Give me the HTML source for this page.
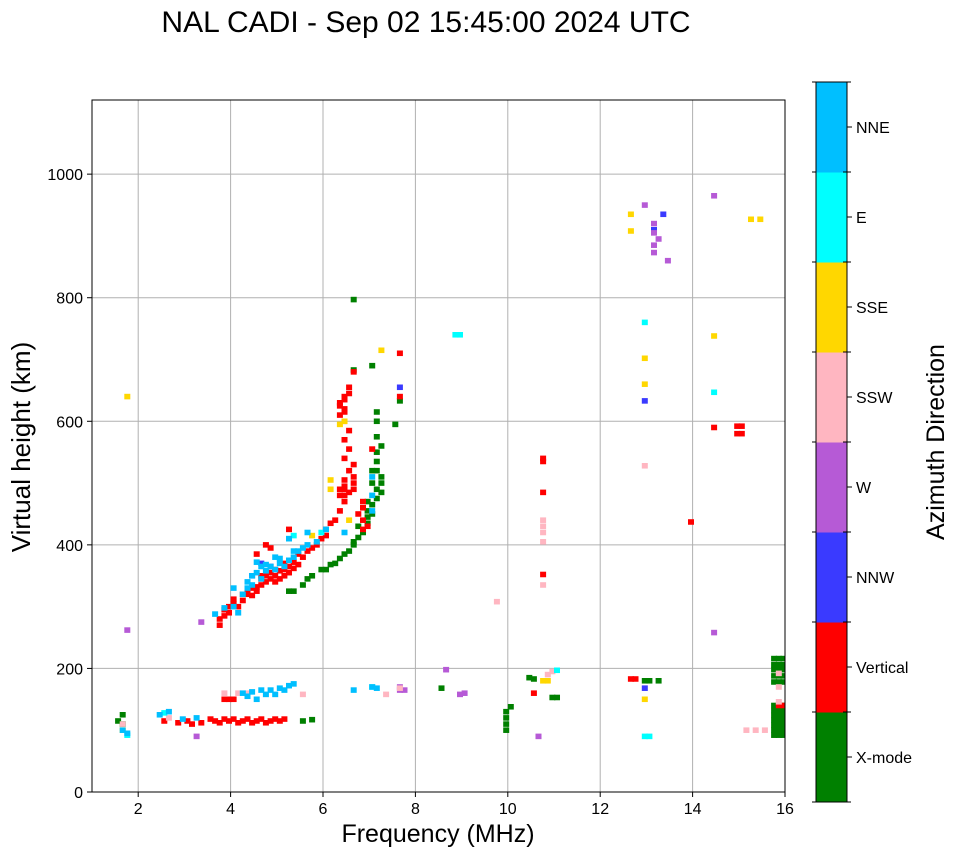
<!DOCTYPE html>
<html><head><meta charset="utf-8"><style>
body{margin:0;background:#fff;}
svg{display:block;font-family:"Liberation Sans","DejaVu Sans",sans-serif;}
</style></head><body>
<svg id="chart" width="958" height="857">
<text x="426" y="32" font-size="30" text-anchor="middle">NAL CADI - Sep 02 15:45:00 2024 UTC</text>
<g id="grid"></g>
<g id="marks"></g>
<rect x="92" y="100" width="693" height="692" fill="none" stroke="#000" stroke-width="1"/>
<g id="axes"></g>
<text x="438" y="842" font-size="25" text-anchor="middle">Frequency (MHz)</text>
<text x="0" y="0" font-size="26" text-anchor="middle" transform="translate(30,447) rotate(-90)">Virtual height (km)</text>
<g id="cbar"></g>
<text x="0" y="0" font-size="25" text-anchor="middle" transform="translate(944,442) rotate(-90)">Azimuth Direction</text>
</svg>
<script>
const xTicks=[2,4,6,8,10,12,14,16];
const yTicks=[0,200,400,600,800,1000];
const dirNames=["X-mode","Vertical","NNW","W","SSW","SSE","E","NNE"];
const dirColors=["#008000","#ff0000","#3a3aff","#b65ad6","#ffb6c1","#ffd700","#00ffff","#00bfff"];
// series: freq (MHz) and height (km) per direction
const xmodeF=[5.2,5.3,5.5,5.6,5.7,5.9,6.0,6.1,6.2,6.3,6.4,6.5,6.6,6.7,6.8,6.9,6.9,7.0,7.0,7.1,7.1,7.2,7.2,7.0,7.1,7.1,7.2,7.1,7.1,7.1,7.5,7.6,6.6,7.0,6.6,6.6,6.7,6.9,7.0,7.1,6.9,7.2,1.5,1.6,1.6,5.5,5.7,8.5,9.9,9.9,9.9,9.9,10.0,10.4,10.5,10.9,11.0,12.9,13.0,13.2,15.7,15.8,15.9,15.7,15.8,15.9,15.7,15.8,15.9,15.7,15.8,15.9,15.7,15.8,15.9,15.7,15.8,15.9,15.7,15.8,15.9,15.7,15.8,15.9,15.7,15.8,15.9,15.7,15.8,15.9,15.7,15.8,15.9,15.7,15.8,15.9];
const xmodeH=[325,325,335,345,350,360,360,368,370,378,385,390,405,412,420,435,445,450,465,475,490,500,510,520,535,550,560,575,600,615,595,633,797,690,683,400,430,455,500,520,470,485,115,110,125,115,117,168,100,110,120,130,138,185,183,153,153,180,180,180,92,92,92,100,100,100,108,108,108,116,116,116,124,124,124,132,132,132,178,178,178,188,188,188,198,198,198,206,206,206,216,216,216,140,140,140];
const vertF=[3.7,3.7,3.8,3.8,3.9,3.9,4.0,4.0,4.1,4.2,4.3,4.3,4.4,4.5,4.5,4.6,4.6,4.7,4.7,4.8,4.8,4.9,4.9,5.0,5.0,5.1,5.1,5.2,5.2,5.3,5.3,5.4,5.5,5.4,5.6,5.7,5.8,5.9,6.0,6.0,6.1,6.2,6.3,6.4,6.4,6.3,6.4,6.4,6.5,6.6,6.6,6.6,6.5,6.6,6.4,6.5,6.4,6.5,6.4,6.4,6.3,6.4,6.5,6.5,6.6,7.6,7.6,6.9,6.8,6.8,6.7,7.0,4.5,4.7,5.2,4.8,6.3,6.3,6.4,6.4,6.3,6.4,6.8,6.8,4.2,4.4,4.6,4.9,5.1,3.0,3.1,3.3,3.5,3.6,3.7,3.8,3.9,4.0,4.1,4.2,4.3,4.4,4.5,4.6,4.7,4.8,4.9,5.0,5.1,3.8,3.9,4.0,2.8,2.5,10.7,10.7,10.7,10.7,10.5,12.6,12.7,14.4,14.9,15.0,14.9,15.0,13.9,15.8,15.9];
const vertH=[270,280,285,295,290,300,305,312,300,310,320,325,318,325,332,335,345,340,350,345,355,340,350,345,358,350,360,355,365,362,372,368,380,385,390,395,400,410,415,425,435,440,455,470,480,490,495,505,485,490,500,510,520,530,540,555,570,585,600,615,625,635,645,655,680,710,640,430,460,470,450,555,385,400,425,395,610,630,620,640,480,490,440,425,320,330,350,360,370,115,110,112,118,115,112,118,115,118,112,115,118,112,115,118,112,115,118,115,118,150,150,150,112,115,540,535,485,352,160,183,183,590,580,580,592,592,437,140,140];
const nnwF=[12.9,13.3,12.9,13.1,7.6,4.6,4.4,4.8];
const nnwH=[633,935,168,910,655,370,350,365];
const wF=[12.9,13.1,13.1,13.2,13.1,13.1,13.4,14.4,14.4,8.6,8.9,9.0,7.6,7.7,10.6,3.3,1.7,7.6,3.2];
const wH=[950,920,905,895,885,873,860,965,258,198,158,160,165,165,90,275,262,170,90];
const sswF=[10.7,10.7,10.7,10.7,10.7,12.9,15.1,15.3,15.5,10.8,10.9,7.3,5.5,4.1,3.8,7.6,2.6,1.6,9.7,4.3,15.8,15.8,15.8];
const sswH=[440,430,420,405,335,528,100,100,100,190,195,158,158,160,160,168,120,110,308,160,170,192,146];
const sseF=[6.4,6.3,6.1,6.1,7.2,12.6,12.6,12.9,12.9,12.9,14.4,15.2,15.4,10.7,10.8,6.5,5.7,1.7,1.6];
const sseH=[600,595,505,490,715,935,908,702,660,150,738,927,927,180,180,440,415,640,100];
const eF=[8.8,8.9,12.9,12.9,13.0,14.4,7.0,5.9,11.0,1.7,5.2,5.3,2.5];
const eH=[740,740,760,90,90,647,170,420,197,92,410,415,128];
const nneF=[3.6,3.8,4.0,4.2,4.3,4.4,4.6,4.7,4.8,4.9,5.0,5.1,5.2,5.3,5.4,5.5,5.6,5.8,4.5,4.9,5.2,5.6,6.0,6.4,7.0,7.0,7.0,4.1,4.4,4.6,4.2,4.4,4.5,4.6,4.7,4.8,4.9,5.0,5.1,5.2,5.3,4.3,2.4,2.6,2.9,3.2,1.6,1.7,7.0,7.1,6.6,4.0,4.3,4.5,4.7,5.0,5.3];
const nneH=[288,298,300,320,330,335,345,358,365,360,370,365,375,380,390,395,400,405,372,380,410,420,425,420,455,480,510,290,350,365,160,162,150,165,158,165,158,168,165,172,175,155,125,130,118,120,100,95,170,168,165,330,340,355,368,378,390];
const seriesF=[xmodeF,vertF,nnwF,wF,sswF,sseF,eF,nneF];
const seriesH=[xmodeH,vertH,nnwH,wH,sswH,sseH,eH,nneH];

const X0=92,X1=785,Y0=792,Y1=100,FMIN=1,FMAX=16,HMIN=0,HMAX=1120;
const xs=f=>X0+(f-FMIN)/(FMAX-FMIN)*(X1-X0);
const ys=h=>Y0-(h-HMIN)/(HMAX-HMIN)*(Y0-Y1);
const NS="http://www.w3.org/2000/svg";
function mk(tag,attrs,parent){const e=document.createElementNS(NS,tag);for(const k in attrs)e.setAttribute(k,attrs[k]);parent.appendChild(e);return e;}
const grid=document.getElementById('grid'),axes=document.getElementById('axes'),marks=document.getElementById('marks'),cbar=document.getElementById('cbar');
xTicks.forEach(t=>{const x=xs(t);
 const g=mk('line',{x1:x,x2:x,y1:Y1,y2:Y0,stroke:'#b0b0b0','stroke-width':1},grid);
 
 
 mk('line',{x1:x,x2:x,y1:Y0,y2:Y0+5,stroke:'#000'},axes);
 const l=mk('text',{x:x,y:Y0+22,'font-size':16,'text-anchor':'middle'},axes);l.textContent=t;
 
 
});
yTicks.forEach(t=>{const y=ys(t);
 const g=mk('line',{x1:X0,x2:X1,y1:y,y2:y,stroke:'#b0b0b0','stroke-width':1},grid);
 
 
 mk('line',{x1:X0-5,x2:X0,y1:y,y2:y,stroke:'#000'},axes);
 const l=mk('text',{x:X0-9,y:y+6,'font-size':16,'text-anchor':'end'},axes);l.textContent=t;
 
 
});
const CW=0.13,CH=9;
seriesF.forEach((fs,d)=>{fs.forEach((f,i)=>{const h=seriesH[d][i];
 const x=xs(f),y=ys(h+CH/2);
 const r=mk('rect',{x:x.toFixed(1),y:y.toFixed(1),width:Math.min(xs(f+CW),X1)-x,height:ys(h-CH/2)-y,fill:dirColors[d]},marks);
 
 
});});
const CX=816,CWd=31,CT=82,CB=802,seg=(CB-CT)/dirNames.length;
dirNames.forEach((n,i)=>{const y=CB-(i+1)*seg;
 const r=mk('rect',{x:CX,y:y,width:CWd,height:seg+0.5,fill:dirColors[i]},cbar);
 
 
 mk('line',{x1:CX+CWd,x2:CX+CWd+5,y1:y+seg/2,y2:y+seg/2,stroke:'#000'},cbar);
 const l=mk('text',{x:CX+CWd+9,y:y+seg/2+6,'font-size':16},cbar);l.textContent=n;
 
 
});
for(let i=0;i<=dirNames.length;i++){const y=CB-i*seg;mk('line',{x1:CX+CWd-4,x2:CX+CWd+4,y1:y,y2:y,stroke:'#000'},cbar);mk('line',{x1:CX-4,x2:CX,y1:y,y2:y,stroke:'#000'},cbar);}
mk('rect',{x:CX,y:CT,width:CWd,height:CB-CT,fill:'none',stroke:'#000'},cbar);
</script>
</body></html>
